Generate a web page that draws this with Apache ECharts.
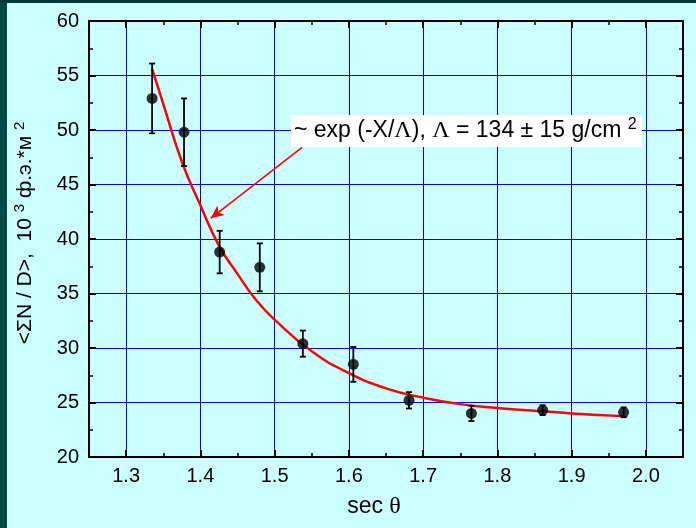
<!DOCTYPE html>
<html>
<head>
<meta charset="utf-8">
<script src="https://cdn.jsdelivr.net/npm/echarts@6/dist/echarts.min.js"></script>
<style>
  html, body { margin: 0; padding: 0; background: #ccffff; }
  #chart { width: 696px; height: 528px; }
</style>
</head>
<body>
<div id="chart"></div>
<script>
// Measured points: sec(theta), mean <ΣN/D> and its error
const secTheta = [1.335, 1.378, 1.426, 1.480, 1.538, 1.606, 1.681, 1.765, 1.861, 1.970];
const meanND   = [52.9, 49.8, 38.8, 37.4, 30.4, 28.5, 25.2, 24.0, 24.3, 24.1];
const errND    = [3.2, 3.1, 1.95, 2.2, 1.2, 1.6, 0.75, 0.7, 0.45, 0.45];

// Exponential attenuation fit
const fitX = [1.335, 1.35, 1.375, 1.4, 1.425, 1.45, 1.475, 1.5, 1.55, 1.6, 1.65, 1.7, 1.75, 1.8, 1.85, 1.9, 1.97];
const fitY = [55.6, 52.4, 47.1, 43.1, 39.4, 36.8, 34.4, 32.6, 29.7, 27.7, 26.3, 25.45, 24.85, 24.5, 24.25, 24.0, 23.75];

// Annotation arrow (from label towards the curve)
const arrowFrom = [1.537, 48.4];
const arrowTo   = [1.414, 41.9];

// Axis ticks
const xMajorTicks = [1.3, 1.4, 1.5, 1.6, 1.7, 1.8, 1.9, 2.0];
const xRange = [1.25, 2.05];
const yRange = [20, 60];

const FONT = 'Arial, "Liberation Sans", Helvetica, sans-serif';
const SERIF = '"Liberation Serif", "Times New Roman", "DejaVu Serif", serif';
const chart = echarts.init(document.getElementById('chart'));

const majorXAxis = (pos, withLabels) => ({
  type: 'value', position: pos, gridIndex: 0,
  min: xRange[0], max: xRange[1],
  axisLine: { show: true, onZero: false, lineStyle: { color: '#000', width: 2 } },
  axisTick: { show: true, inside: true, length: 7, customValues: xMajorTicks,
              lineStyle: { color: '#000', width: 2 } },
  axisLabel: { show: withLabels, customValues: xMajorTicks, margin: 9,
               color: '#000', fontSize: 20, fontFamily: FONT,
               formatter: v => v.toFixed(1) },
  splitLine: { show: withLabels, lineStyle: { color: '#0000ff', width: 1 } },
  name: withLabels ? 'sec {t|θ}' : '', nameLocation: 'middle', nameGap: 38,
  nameTextStyle: {
    color: '#000', fontSize: 23, fontFamily: FONT, padding: [0, 24, 0, 0],
    rich: { t: { fontSize: 24, fontFamily: SERIF, color: '#000' } }
  }
});
const minorXAxis = (pos) => ({
  type: 'value', position: pos, gridIndex: 0,
  min: xRange[0], max: xRange[1], interval: 0.05,
  axisLine: { show: false, onZero: false },
  axisTick: { show: true, inside: true, length: 4, lineStyle: { color: '#000', width: 1.5 } },
  axisLabel: { show: false },
  splitLine: { show: false }
});
const yAxisCfg = (pos, withLabels) => ({
  type: 'value', position: pos, gridIndex: 0,
  min: yRange[0], max: yRange[1], interval: 5,
  axisLine: { show: true, onZero: false, lineStyle: { color: '#000', width: 2 } },
  axisTick: { show: true, inside: true, length: 7, lineStyle: { color: '#000', width: 2 } },
  minorTick: { show: true, splitNumber: 2, length: 4, lineStyle: { color: '#000', width: 1.5 } },
  axisLabel: { show: withLabels, margin: 10, color: '#000', fontSize: 20, fontFamily: FONT },
  splitLine: { show: withLabels, lineStyle: { color: '#0000ff', width: 1 } }
});

const errData = secTheta.map((x, i) => [x, meanND[i] - errND[i], meanND[i] + errND[i]]);
const pointData = secTheta.map((x, i) => [x, meanND[i]]);
const fitData = fitX.map((x, i) => [x, fitY[i]]);

chart.setOption({
  backgroundColor: '#ccffff',
  animation: false,
  grid: { left: 89, right: 13, top: 21, bottom: 71, containLabel: false, outerBoundsMode: 'none' },
  xAxis: [majorXAxis('bottom', true), minorXAxis('bottom'), majorXAxis('top', false), minorXAxis('top')],
  yAxis: [yAxisCfg('left', true), yAxisCfg('right', false)],
  graphic: [
    { type: 'rect', left: 0, top: 0, shape: { width: 7, height: 528 }, style: { fill: '#044a48' }, silent: true },
    { type: 'rect', left: 0, top: 0, shape: { width: 696, height: 3 }, style: { fill: '#023a38' }, silent: true },
    {
      type: 'text', x: 25, y: 233, rotation: Math.PI / 2, silent: true,
      style: {
        text: '<ΣN / D>,  10 {sup|3} ф.э.*м {sup|2}',
        align: 'center', verticalAlign: 'middle',
        fill: '#000', font: '21px ' + FONT, lineHeight: 25,
        rich: { sup: { fontSize: 15, fontFamily: FONT, verticalAlign: 'top', lineHeight: 15, fill: '#000' } }
      }
    },
    {
      type: 'text', left: 291, top: 115, silent: true, z: 10,
      style: {
        text: '~ exp (-X/{L|Λ}), {L|Λ} = 134 ± 15 g/cm {sup|2}',
        fill: '#000', font: '23px ' + FONT, lineHeight: 28,
        backgroundColor: '#ffffff', padding: [2, 5, 2, 3],
        rich: {
          L: { fontSize: 24, fontFamily: SERIF, fill: '#000' },
          sup: { fontSize: 16, fontFamily: FONT, verticalAlign: 'top', lineHeight: 16, fill: '#000' }
        }
      }
    }
  ],
  series: [
    {
      type: 'line', xAxisIndex: 0, yAxisIndex: 0, data: fitData,
      smooth: true, showSymbol: false, z: 3,
      lineStyle: { color: '#ff0000', width: 2.5 },
      markLine: {
        silent: true, symbol: ['none', 'arrow'], symbolSize: [9, 13],
        lineStyle: { color: '#ff0000', width: 1.6, type: 'solid' },
        label: { show: false },
        data: [[{ coord: arrowFrom }, { coord: arrowTo }]]
      }
    },
    {
      type: 'custom', xAxisIndex: 0, yAxisIndex: 0, data: errData, z: 4,
      encode: { x: 0, y: [1, 2] },
      renderItem: (params, api) => {
        const x = api.value(0);
        const top = api.coord([x, api.value(2)]);
        const bot = api.coord([x, api.value(1)]);
        const w = 3;
        const st = { stroke: '#000', lineWidth: 1.8 };
        return {
          type: 'group',
          children: [
            { type: 'line', shape: { x1: top[0], y1: top[1], x2: bot[0], y2: bot[1] }, style: st },
            { type: 'line', shape: { x1: top[0] - w, y1: top[1], x2: top[0] + w, y2: top[1] }, style: st },
            { type: 'line', shape: { x1: bot[0] - w, y1: bot[1], x2: bot[0] + w, y2: bot[1] }, style: st }
          ]
        };
      }
    },
    {
      type: 'scatter', xAxisIndex: 0, yAxisIndex: 0, data: pointData, z: 5,
      symbol: 'circle', symbolSize: 11,
      itemStyle: { color: '#000' }
    }
  ]
});
</script>
</body>
</html>
